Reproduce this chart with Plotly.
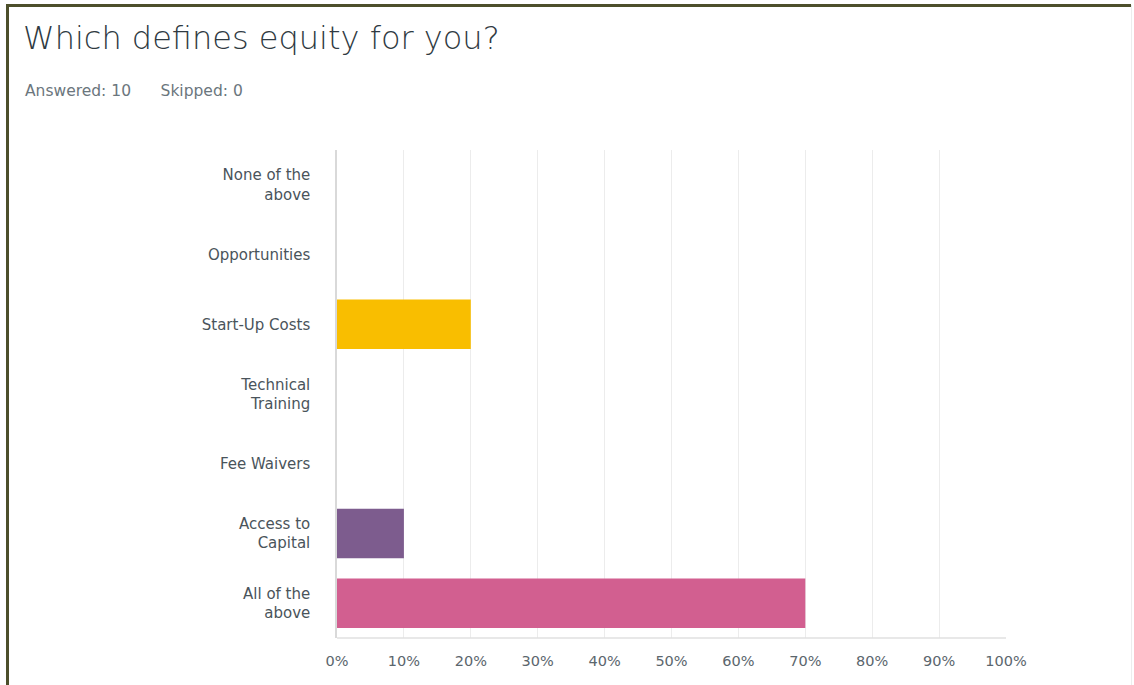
import plotly.graph_objects as go

categories = ["All of the<br>above", "Access to<br>Capital", "Fee Waivers",
              "Technical<br>Training", "Start-Up Costs", "Opportunities",
              "None of the<br>above"]
values = [70, 10, 0, 0, 20, 0, 0]
colors = ["#D25F90", "#7D5C8E", "#00BF6F", "#6BC8CD", "#F9BE00", "#507CB6", "#F05B24"]
x_ticks = [0, 10, 20, 30, 40, 50, 60, 70, 80, 90, 100]
x_labels = [f"{t}%" for t in x_ticks]

W, H = 1134, 685
L, R, T, B = 337, 128, 150, 47
pw, ph = W - L - R, H - T - B

def px(x):
    return (x - L) / pw

def py(y):
    return (H - B - y) / ph

FONT = "DejaVu Sans, sans-serif"

fig = go.Figure(go.Bar(
    x=values, y=categories, orientation="h",
    marker=dict(color=colors, line=dict(width=0)),
    width=0.71, hoverinfo="x+y",
))

fig.update_layout(
    width=W, height=H,
    margin=dict(l=L, r=R, t=T, b=B),
    paper_bgcolor="white", plot_bgcolor="white",
    showlegend=False,
    font=dict(family=FONT, color="#5b666d", size=14),
    xaxis=dict(range=[0, 100], tickvals=x_ticks, ticktext=x_labels,
               showgrid=True, gridcolor="#ececec", gridwidth=1,
               zeroline=False, showline=False, ticks="",
               tickfont=dict(size=14.5, color="#5b666d"), ticklabelstandoff=12,
               fixedrange=True),
    yaxis=dict(categoryorder="array", categoryarray=categories,
               range=[-0.5, 6.5], showgrid=False, zeroline=False,
               showline=True, linecolor="#d9d9d9", linewidth=1.5,
               ticks="", tickfont=dict(size=15, color="#4a545b"),
               ticklabelstandoff=22, fixedrange=True),
    shapes=[
        dict(type="line", xref="paper", yref="paper", x0=0, x1=1, y0=0, y1=0,
             line=dict(color="#e0e0e0", width=1.5)),
        dict(type="line", xref="paper", yref="paper", x0=px(7.5), x1=px(7.5),
             y0=py(5), y1=py(H + 5), line=dict(color="#4d4f2b", width=3)),
        dict(type="line", xref="paper", yref="paper", x0=px(6), x1=px(1131),
             y0=py(5.5), y1=py(5.5), line=dict(color="#4d4f2b", width=3)),
        dict(type="line", xref="paper", yref="paper", x0=px(1131.5), x1=px(1131.5),
             y0=py(5), y1=py(H + 5), line=dict(color="#ededed", width=1)),
    ],
    annotations=[
        dict(text="Which defines equity for you?", xref="paper", yref="paper",
             x=px(21), y=py(38), xanchor="left", yanchor="middle", showarrow=False,
             font=dict(size=32, color="#2f3a42", family=FONT, weight=300)),
        dict(text="Answered: 10&nbsp;&nbsp;&nbsp;&nbsp;&nbsp;&nbsp;Skipped: 0", xref="paper", yref="paper",
             x=px(23), y=py(91), xanchor="left", yanchor="middle", showarrow=False,
             font=dict(size=15.5, color="#6b767d", family=FONT)),
    ],
)

fig.write_html("out.html", post_script="document.body.style.margin='0';",
               config={"displayModeBar": False})
